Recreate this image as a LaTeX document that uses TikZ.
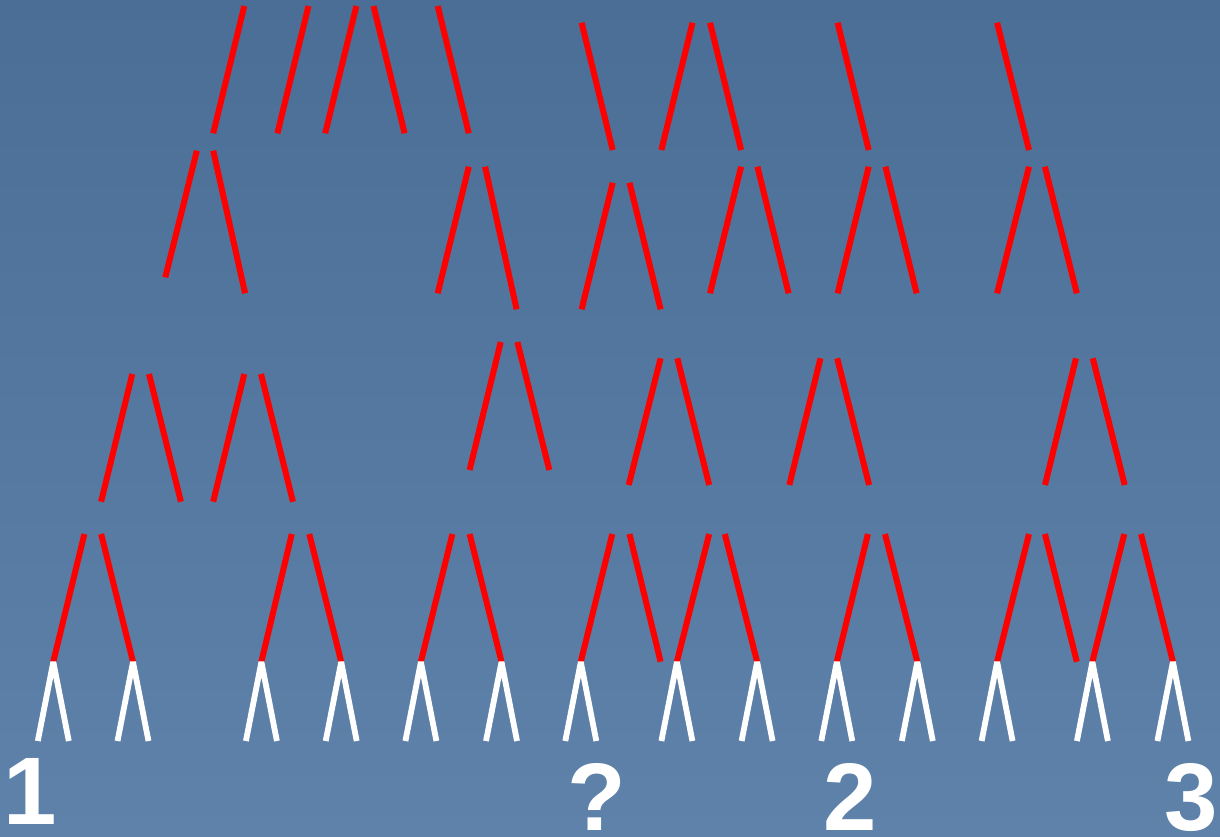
\documentclass[tikz,border=0pt]{standalone}
\usepackage{fontspec}
\setmainfont{Liberation Sans}
\definecolor{bgtop}{RGB}{74,110,150}
\definecolor{bgbot}{RGB}{94,130,170}
\definecolor{branchred}{RGB}{255,0,0}
\tikzset{
  redline/.style={draw=branchred, line width=6pt},
  whiteline/.style={draw=white, line width=5.8pt, line join=bevel},
  lbl/.style={text=white, font=\fontsize{96}{96}\selectfont\bfseries, inner sep=0pt, anchor=base}
}
\begin{document}
\begin{tikzpicture}[x=1pt,y=-1pt]
\useasboundingbox (0,0) rectangle (1220,837);
\shade[top color=bgtop, bottom color=bgbot] (0,0) rectangle (1220,837);
% red branches: top point / bottom point
\foreach \xa/\ya/\xb/\yb in {
 244.3/6/213.2/133.3, 308.5/6/277.4/133.3, 356.4/6/325.2/133.3,
 373.5/6/404.6/133.3, 437.7/6/468.8/133.3,
 581.6/22.7/612.7/150, 692.5/22.7/661.4/150, 710/22.7/741.1/150,
 837.6/22.7/868.7/150, 997.1/22.7/1029/150,
 196.9/150.7/165.3/277.3, 213.2/150.7/245.1/293.3,
 468.8/166.7/437.7/293.3, 485.1/166.7/516.6/309.3,
 612.7/182.7/581.6/309.3, 629.5/182.7/660.6/309.3,
 741.1/166.7/710/293.3, 757.4/166.7/788.6/293.3,
 868.7/166.7/837.6/293.3, 885.4/166.7/916.6/293.3,
 1029/166.7/997.1/293.3, 1044.9/166.7/1076.8/293.3,
 500.7/342/469.6/470, 517.4/342/549.3/470,
 132.3/374/101.1/501.7, 149/374/180.9/501.7,
 244.3/374/213.2/501.7, 261/374/293/501.7,
 660.6/358.3/628.7/485, 677.3/358.3/709.2/485,
 820.5/358.3/789.3/485, 837.2/358.3/869.1/485,
 1076/358.3/1045/485, 1092.8/358.3/1124.7/485,
 84.4/534/53.3/661.7, 101.1/534/133/661.7,
 291.8/534/261.4/661.7, 309.3/534/341.2/661.7,
 452.4/534/420.9/661.7, 469.6/534/501.5/661.7,
 612.3/534/580.8/661.7, 629.5/534/660.6/661.7,
 709.2/534/676.9/661.7, 724.8/534/757.1/661.7,
 867.9/534/836.8/661.7, 885/534/917.3/661.7,
 1029/534/997.1/661.7, 1044.9/534/1076.8/661.7,
 1124.3/534/1092.4/661.7, 1141/534/1172.9/661.7}
 { \path[redline] (\xa,\ya) -- (\xb,\yb); }
% white forks
\foreach \a [count=\i] in {53.3,133,261.4,341.2,420.9,501.5,580.8,676.9,757.1,836.8,917.3,997.1,1092.4,1172.9}
 { \coordinate (apex\i) at (\a,662);
   \coordinate (fl\i) at (\a-15.5,741);
   \coordinate (fr\i) at (\a+15.5,741);
   \path[whiteline] (fl\i) -- (apex\i) -- (fr\i); }
\node[lbl] (one) at (30,824) {1};
\node[lbl] (quest) at (597,830.7) {?};
\node[lbl] (two) at (850,830.7) {2};
\node[lbl] (three) at (1191,830.7) {3};
\end{tikzpicture}
\end{document}
